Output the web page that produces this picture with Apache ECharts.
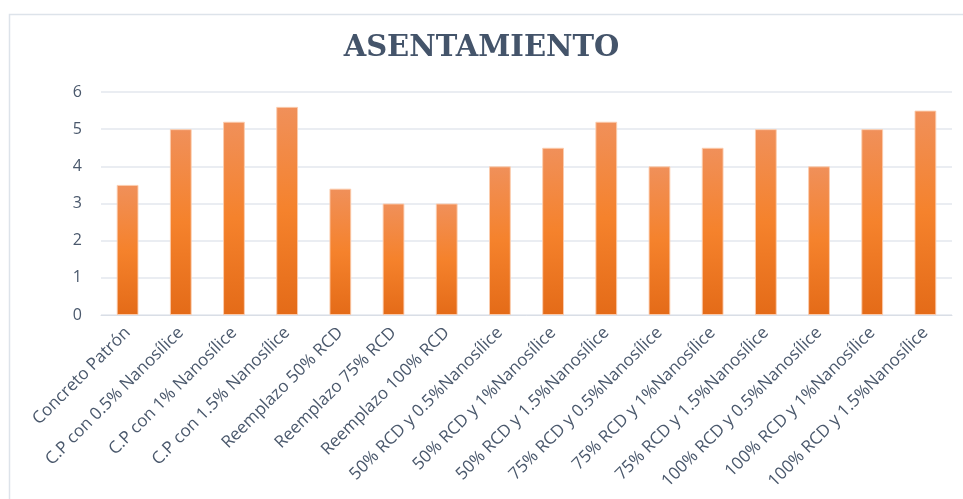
<!DOCTYPE html>
<html>
<head>
<meta charset="utf-8">
<script src="https://cdn.jsdelivr.net/npm/echarts@6/dist/echarts.min.js"></script>
<style>
  html, body { margin: 0; padding: 0; background: #fff; }
  #chartData { width: 963px; height: 499px; }
</style>
</head>
<body>
<div id="chartData"></div>
<script>
// categorias del eje x
var categorias = [
  "Concreto Patrón",
  "C.P con 0.5% Nanosílice",
  "C.P con 1% Nanosílice",
  "C.P con 1.5% Nanosílice",
  "Reemplazo 50% RCD",
  "Reemplazo 75% RCD",
  "Reemplazo 100% RCD",
  "50% RCD y 0.5%Nanosílice",
  "50% RCD y 1%Nanosílice",
  "50% RCD y 1.5%Nanosílice",
  "75% RCD y 0.5%Nanosílice",
  "75% RCD y 1%Nanosílice",
  "75% RCD y 1.5%Nanosílice",
  "100% RCD y 0.5%Nanosílice",
  "100% RCD y 1%Nanosílice",
  "100% RCD y 1.5%Nanosílice"
];
// asentamiento
var asentamiento = [3.5, 5, 5.2, 5.6, 3.4, 3, 3, 4, 4.5, 5.2, 4, 4.5, 5, 4, 5, 5.5];
var yMin = 0, yMax = 6, yPaso = 1;

var myChart = echarts.init(document.getElementById("chartData"));
var option = {
  animation: false,
  title: {
    text: "ASENTAMIENTO",
    left: "center",
    top: 29,
    textStyle: {
      fontFamily: "DejaVu Serif",
      fontWeight: "bold",
      fontSize: 29,
      color: "#44546a"
    }
  },
  graphic: [
    {
      // marco del grafico
      type: "rect",
      shape: { x: 9.5, y: 14.5, width: 960, height: 500 },
      style: { fill: "none", stroke: "#dde3ea", lineWidth: 1.5 },
      silent: true
    }
  ],
  grid: {
    left: 101,
    right: 11,
    top: 92,
    bottom: 184
  },
  xAxis: {
    type: "category",
    data: categorias,
    axisTick: { show: false },
    axisLine: { show: true, lineStyle: { color: "#d9dee6", width: 1 } },
    axisLabel: {
      interval: 0,
      rotate: 45,
      margin: 15,
      fontFamily: "Open Sans",
      fontSize: 17,
      color: "#4a586c"
    }
  },
  yAxis: {
    type: "value",
    min: yMin,
    max: yMax,
    interval: yPaso,
    axisTick: { show: false },
    axisLine: { show: false },
    splitLine: {
      show: true,
      lineStyle: { color: "#e3e7ee", width: 1.5 }
    },
    axisLabel: {
      margin: 19,
      fontFamily: "Open Sans",
      fontSize: 16,
      color: "#4a586c"
    }
  },
  series: [
    {
      name: "Asentamiento",
      type: "bar",
      barWidth: "41%",
      data: asentamiento,
      itemStyle: {
        borderColor: "rgba(252, 205, 175, 0.9)",
        borderWidth: 1,
        color: new echarts.graphic.LinearGradient(0, 0, 0, 1, [
          { offset: 0, color: "#f0905a" },
          { offset: 0.5, color: "#f5822c" },
          { offset: 1, color: "#e46b18" }
        ])
      }
    }
  ]
};
myChart.setOption(option, true);
</script>
</body>
</html>
